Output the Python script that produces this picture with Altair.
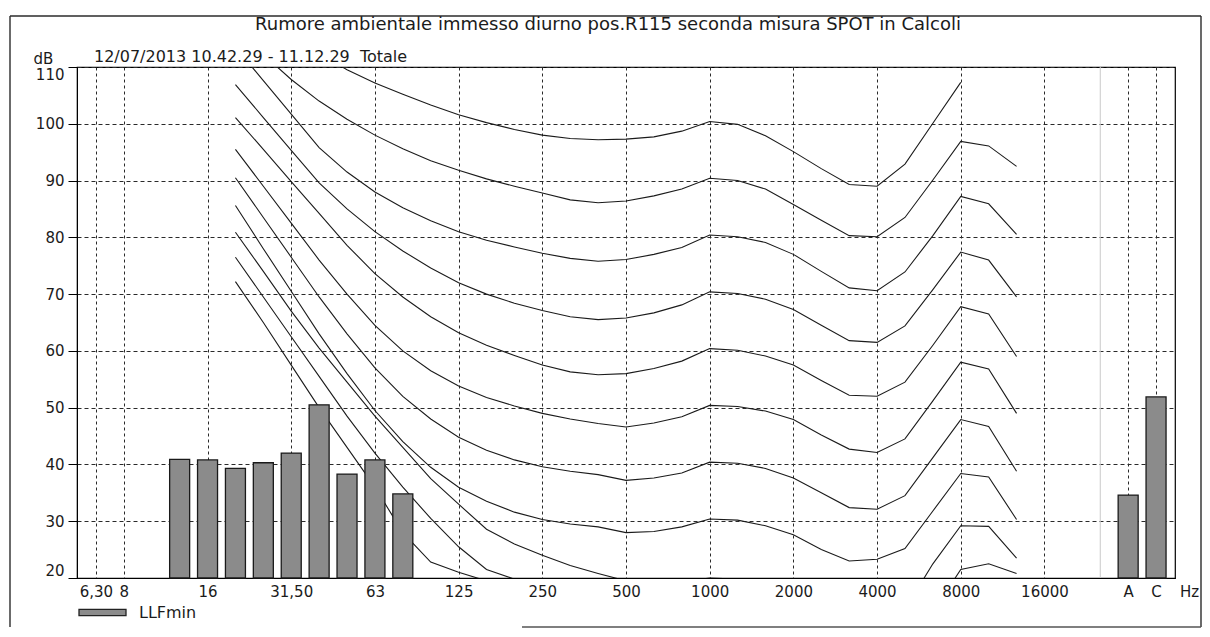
import altair as alt
import pandas as pd

TITLE = "Rumore ambientale immesso diurno pos.R115 seconda misura SPOT in Calcoli"
SUBTITLE = "12/07/2013 10.42.29 - 11.12.29\u00a0 Totale"
Y_TITLE = "dB"
X_TITLE = "Hz"

# 1/3-octave bands along the x axis (index = position), then the A and C totals
BANDS = ["6,3", "8", "10", "12,5", "16", "20", "25", "31,5", "40", "50", "63", "80",
         "100", "125", "160", "200", "250", "315", "400", "500", "630", "800", "1000",
         "1250", "1600", "2000", "2500", "3150", "4000", "5000", "6300", "8000",
         "10000", "12500", "16000", "20000", "", "A", "C"]
SEPARATOR_BAND = ""

TICK_BANDS = ["6,3", "8", "16", "31,5", "63", "125", "250", "500", "1000", "2000",
              "4000", "8000", "16000", "A", "C"]
TICK_LABELS = ["6,30", "8", "16", "31,50", "63", "125", "250", "500", "1000", "2000",
               "4000", "8000", "16000", "A", "C"]
Y_TICKS = [20, 30, 40, 50, 60, 70, 80, 90, 100, 110]

SERIES = "LLFmin"
BAR_BANDS = ["12,5", "16", "20", "25", "31,5", "40", "50", "63", "80", "A", "C"]
BAR_VALUES = [40.9, 40.8, 39.3, 40.3, 42.0, 50.5, 38.3, 40.8, 34.8, 34.6, 51.9]

# equal-loudness contours (20 Hz ... 12500 Hz)
CURVE_BANDS = BANDS[5:34]
PHON_100 = [125, 121, 117, 112.5, 109.5, 107.2, 105.2, 103.3, 101.6, 100.2, 99.0, 98.0, 97.4,
            97.2, 97.3, 97.7, 98.7, 100.4, 99.9, 97.9, 95.1, 92.1, 89.3, 89.0, 92.9, 100.1, 107.3]
PHON_90 = [118, 112.2, 107.8, 104.0, 100.8, 98.0, 95.6, 93.5, 91.8, 90.3, 89.0, 87.8, 86.6,
           86.1, 86.4, 87.3, 88.5, 90.4, 90.0, 88.5, 85.8, 83.0, 80.3, 80.1, 83.5, 90.1, 96.9,
           96.1, 92.5]
PHON_80 = [113.5, 107.6, 101.7, 95.8, 91.5, 88.0, 85.2, 82.9, 81.0, 79.5, 78.3, 77.2, 76.3,
           75.8, 76.1, 77.0, 78.2, 80.4, 80.1, 79.1, 77.0, 74.0, 71.1, 70.6, 73.9, 80.3, 87.2,
           85.9, 80.5]
PHON_70 = [106.9, 101.1, 95.3, 89.6, 85.0, 81.0, 77.6, 74.6, 72.0, 70.0, 68.4, 67.1, 66.0,
           65.5, 65.8, 66.7, 68.1, 70.4, 70.1, 69.1, 67.3, 64.5, 61.8, 61.5, 64.4, 70.8, 77.4,
           76.0, 69.5]
PHON_60 = [101.1, 95.5, 89.8, 84.2, 78.6, 73.6, 69.5, 66.0, 63.2, 61.0, 59.2, 57.5, 56.3,
           55.8, 56.0, 56.9, 58.2, 60.4, 60.1, 59.1, 57.5, 54.8, 52.2, 52.0, 54.5, 61.0, 67.8,
           66.5, 59.0]
PHON_50 = [95.5, 89.0, 82.5, 76.0, 70.0, 64.5, 60.0, 56.5, 53.8, 51.8, 50.3, 49.0, 48.0,
           47.2, 46.6, 47.3, 48.4, 50.4, 50.2, 49.4, 47.9, 45.2, 42.7, 42.1, 44.5, 51.2, 58.0,
           56.8, 49.0]
PHON_40 = [90.5, 83.5, 76.5, 69.5, 63.0, 57.0, 52.0, 48.0, 44.8, 42.5, 40.8, 39.6, 38.8,
           38.2, 37.2, 37.6, 38.5, 40.4, 40.2, 39.3, 37.6, 35.0, 32.4, 32.1, 34.5, 41.2, 47.9,
           46.7, 38.8]
PHON_30 = [85.6, 78.0, 70.5, 63.0, 56.0, 49.5, 44.0, 39.5, 36.0, 33.5, 31.6, 30.3, 29.5,
           29.0, 28.0, 28.2, 29.0, 30.4, 30.2, 29.2, 27.6, 25.0, 23.0, 23.3, 25.2, 31.8, 38.4,
           37.8, 30.3]
PHON_20 = [80.9, 74.0, 67.0, 60.5, 54.5, 48.5, 43.0, 37.5, 33.0, 28.6, 26.0, 24.0, 22.2,
           20.8, 19.5, 19.2, 19.3, 20.0, 19.8, 19.2, 17.6, 15.0, 13.0, 13.8, 14.5, 22.5, 29.2,
           29.1, 23.5]
PHON_10 = [76.5, 69.5, 62.5, 55.5, 48.5, 42.0, 36.0, 30.5, 25.5, 21.5, 19.8, 18.5, 17.0,
           15.0, 13.0, 11.5, 10.5, 10.0, 9.8, 9.5, 7.6, 5.0, 3.0, 3.5, 5.0, 14.0, 21.5,
           22.5, 20.8]
PHON_0 = [72.2, 65.0, 57.5, 50.0, 43.0, 36.0, 28.0, 22.8, 21.0, 19.5, 18.0, 16.0, 14.0,
          12.0, 10.5, 9.0, 8.0, 7.0, 7.0, 6.5, 5.0, 2.0, 0.0, 0.5, 2.0, 8.0, 13.0, 14.0, 12.5]
CURVES = {100: PHON_100, 90: PHON_90, 80: PHON_80, 70: PHON_70, 60: PHON_60, 50: PHON_50,
          40: PHON_40, 30: PHON_30, 20: PHON_20, 10: PHON_10, 0: PHON_0}

FONT = "DejaVu Sans"
INK = "#1b1b1b"

# ---------------------------------------------------------------- data tables
pos = {b: i for i, b in enumerate(BANDS)}
bars_df = pd.DataFrame({"pos": [pos[b] for b in BAR_BANDS], "value": BAR_VALUES,
                        "series": SERIES, "band": BAR_BANDS})
rows = []
for level, vals in CURVES.items():
    for b, v in zip(CURVE_BANDS, vals):
        rows.append({"phon": level, "pos": pos[b], "value": v})
curves_df = pd.DataFrame(rows)
sep_df = pd.DataFrame({"pos": [pos[SEPARATOR_BAND]]})

label_expr = "".join(
    f"datum.value == {pos[b]} ? '{lab}' : " for b, lab in zip(TICK_BANDS, TICK_LABELS)
) + "''"

W, H = 1098, 511
x_scale = alt.Scale(domain=[-0.5, len(BANDS) - 0.5], nice=False, zero=False)
y_scale = alt.Scale(domain=[20, 110], nice=False, zero=False)

x_axis = alt.Axis(values=[pos[b] for b in TICK_BANDS], labelExpr=label_expr, grid=True,
                  gridDash=[3, 3], gridColor="#2a2a2a", gridWidth=1, ticks=False,
                  domainColor="#000", labelFont=FONT, labelFontSize=15, labelColor=INK,
                  labelPadding=6, labelOverlap=False, labelFlush=False,
                  title=X_TITLE, titleFont=FONT, titleFontSize=15, titleFontWeight="normal",
                  titleColor=INK, titleAngle=0, titleX=1112, titleY=6, titleAlign="center",
                  titleBaseline="top")
y_axis = alt.Axis(values=Y_TICKS, grid=True, gridDash=[4, 3], gridColor="#2a2a2a",
                  gridWidth=1, tickSize=9, tickColor="#000", domainColor="#000",
                  labelFlush=True, labelPadding=4, labelFont=FONT, labelFontSize=15,
                  labelColor=INK, title=Y_TITLE, titleFont=FONT, titleFontSize=15,
                  titleFontWeight="normal", titleColor=INK, titleAngle=0, titleX=-34,
                  titleY=-9, titleAlign="center", titleBaseline="middle")


def X(field="pos"):
    return alt.X(f"{field}:Q", scale=x_scale, axis=x_axis)


def Y(field="value"):
    return alt.Y(f"{field}:Q", scale=y_scale, axis=y_axis)


separator = alt.Chart(sep_df).mark_rule(color="#c9c9c9", strokeWidth=1).encode(x=X())

curves = alt.Chart(curves_df).mark_line(color=INK, strokeWidth=1.1, clip=True).encode(
    x=X(), y=Y(), detail="phon:N", order="pos:Q")

bars = alt.Chart(bars_df).mark_bar(size=20, stroke="#1a1a1a", strokeWidth=1.3).encode(
    x=X(), y=Y(), y2=alt.datum(20),
    color=alt.Color("series:N", scale=alt.Scale(domain=[SERIES], range=["#8b8b8b"]),
                    legend=alt.Legend(orient="none", legendX=1, legendY=521, title=None,
                                      symbolType="M-1,-0.13H1V0.13H-1Z", symbolSize=2209,
                                      symbolStrokeColor="#222", symbolStrokeWidth=1.3,
                                      symbolOpacity=1, labelFont=FONT, labelFontSize=16,
                                      labelColor=INK, labelOffset=12, padding=0)))

one = alt.Data(values=[{}])
title = alt.Chart(one).mark_text(font=FONT, fontSize=18, color=INK, align="center",
                                 baseline="middle").encode(
    x=alt.value(531), y=alt.value(-42), text=alt.value(TITLE))
subtitle = alt.Chart(one).mark_text(font=FONT, fontSize=16, color=INK, align="left",
                                    baseline="middle").encode(
    x=alt.value(17), y=alt.value(-10), text=alt.value(SUBTITLE))

frame_style = dict(color="#2b2b2b", strokeWidth=1.4)
frame = [
    alt.Chart(one).mark_rule(**frame_style).encode(x=alt.value(-67), x2=alt.value(1124),
                                                    y=alt.value(-51), y2=alt.value(-51)),
    alt.Chart(one).mark_rule(**frame_style).encode(x=alt.value(-67), x2=alt.value(-67),
                                                    y=alt.value(-51), y2=alt.value(560)),
    alt.Chart(one).mark_rule(**frame_style).encode(x=alt.value(1124), x2=alt.value(1124),
                                                    y=alt.value(-51), y2=alt.value(560)),
    alt.Chart(one).mark_rule(color="#555", strokeWidth=1.6).encode(
        x=alt.value(445), x2=alt.value(1124), y=alt.value(560), y2=alt.value(560)),
]

chart = alt.layer(separator, curves, bars, title, subtitle, *frame).properties(
    width=W, height=H,
    padding={"left": 69, "top": 59, "right": 27, "bottom": 50},
    autosize=alt.AutoSizeParams(type="none"),
    background="white",
).configure_view(stroke="#000", strokeWidth=1.2)

chart.save("out.html", embed_options={"renderer": "svg", "actions": False})
